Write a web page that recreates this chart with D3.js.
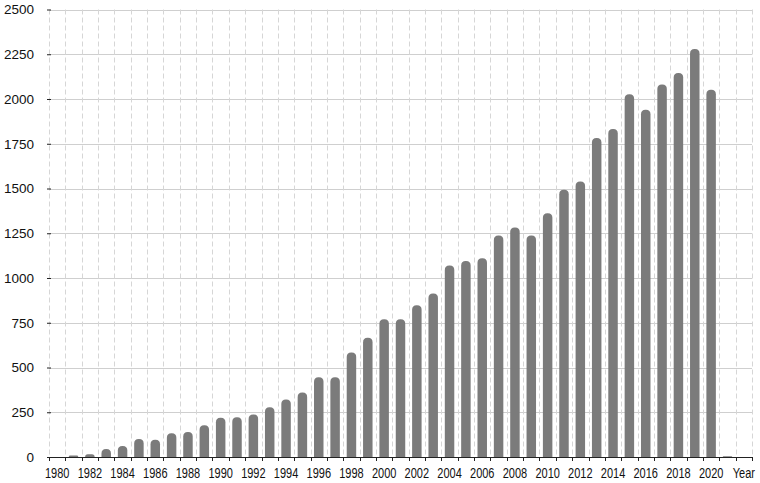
<!DOCTYPE html>
<html>
<head>
<meta charset="utf-8">
<script src="https://cdn.jsdelivr.net/npm/d3@7"></script>
<style>
  body { margin: 0; background: #fff; }
  svg text { font-family: "Liberation Sans", Arial, Helvetica, sans-serif; fill: #111; }
</style>
</head>
<body>
<div id="chart"></div>
<script>
const width = 760;
const height = 483;
const plotLeft = 49, plotRight = 752, plotTop = 9.5, plotBottom = 457;

const years = [1980, 1981, 1982, 1983, 1984, 1985, 1986, 1987, 1988, 1989,
               1990, 1991, 1992, 1993, 1994, 1995, 1996, 1997, 1998, 1999,
               2000, 2001, 2002, 2003, 2004, 2005, 2006, 2007, 2008, 2009,
               2010, 2011, 2012, 2013, 2014, 2015, 2016, 2017, 2018, 2019,
               2020, 2021];
const values = [0, 8, 15, 45, 61, 101, 96, 133, 140, 177,
                219, 222, 238, 278, 321, 361, 445, 445, 584, 666,
                769, 769, 848, 914, 1070, 1095, 1110, 1237, 1282, 1237,
                1362, 1493, 1539, 1782, 1832, 2027, 1940, 2081, 2145, 2280,
                2052, 4];
const endLabel = "Year";
const yTicks = [0, 250, 500, 750, 1000, 1250, 1500, 1750, 2000, 2250, 2500];

const categories = years.map(String).concat([endLabel]);

const svg = d3.select("#chart").append("svg")
    .attr("width", width)
    .attr("height", height);

const x = d3.scaleBand()
    .domain(categories)
    .range([plotLeft, plotRight])
    .padding(0);

const y = d3.scaleLinear()
    .domain([0, 2500])
    .range([plotBottom, plotTop]);

// horizontal grid
svg.append("g")
    .selectAll("line")
    .data(yTicks)
    .enter()
    .append("line")
    .attr("x1", plotLeft)
    .attr("x2", plotRight)
    .attr("y1", d => Math.round(y(d)) + 0.5)
    .attr("y2", d => Math.round(y(d)) + 0.5)
    .attr("stroke", "#cfcfcf")
    .attr("stroke-width", 1);

// vertical dashed grid at band edges
const edges = categories.map(c => x(c)).concat([plotRight]);
svg.append("g")
    .selectAll("line")
    .data(edges)
    .enter()
    .append("line")
    .attr("x1", d => Math.round(d) + 0.5)
    .attr("x2", d => Math.round(d) + 0.5)
    .attr("y1", plotTop)
    .attr("y2", plotBottom)
    .attr("stroke", "#d6d6d6")
    .attr("stroke-dasharray", "5,3")
    .attr("stroke-width", 1);

// bars with rounded tops
const barW = x.bandwidth() * 0.58;
const r = 4.5;
function barPath(cx, yTop) {
    const x0 = cx - barW / 2, x1 = cx + barW / 2;
    const h = plotBottom - yTop;
    const rr = Math.min(r, h, barW / 2);
    return `M${x0},${plotBottom} L${x0},${yTop + rr} Q${x0},${yTop} ${x0 + rr},${yTop}` +
           ` L${x1 - rr},${yTop} Q${x1},${yTop} ${x1},${yTop + rr} L${x1},${plotBottom} Z`;
}

svg.append("g")
    .selectAll("path")
    .data(years.map((yr, i) => ({ year: String(yr), value: values[i] })).filter(d => d.value > 0))
    .enter()
    .append("path")
    .attr("d", d => barPath(x(d.year) + x.bandwidth() / 2, y(d.value)))
    .attr("fill", "#7b7b7b");

// x axis (labels are narrow in the original, so squeeze them horizontally)
const xAxis = d3.axisBottom(x)
    .tickSize(0)
    .tickFormat(d => (d === endLabel || (+d % 2 === 0)) ? d : "");
const gx = svg.append("g")
    .attr("transform", `translate(0,${plotBottom})`)
    .call(xAxis);
gx.select(".domain").attr("stroke", "#222").attr("stroke-width", 1.2);
gx.selectAll("text")
    .attr("y", 21.5)
    .attr("dy", 0)
    .attr("transform", "scale(0.76,1)")
    .style("font-size", "14.5px");

svg.append("g")
    .selectAll("line")
    .data(edges)
    .enter()
    .append("line")
    .attr("x1", d => Math.round(d) + 0.5)
    .attr("x2", d => Math.round(d) + 0.5)
    .attr("y1", plotBottom)
    .attr("y2", plotBottom + 4)
    .attr("stroke", "#222");

// y axis
const yAxis = d3.axisLeft(y)
    .tickValues(yTicks)
    .tickFormat(d3.format("d"))
    .tickSize(4)
    .tickPadding(13);
const gy = svg.append("g")
    .attr("transform", `translate(${plotLeft + 2},0)`)
    .call(yAxis);
gy.select(".domain").remove();
gy.selectAll(".tick line").attr("stroke", "#222");
gy.selectAll("text").style("font-size", "13.5px");
</script>
</body>
</html>
